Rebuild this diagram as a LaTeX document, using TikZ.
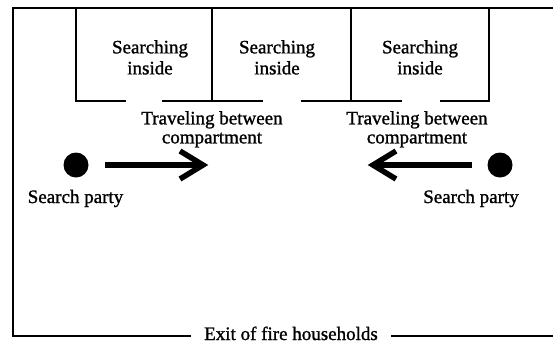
\documentclass[tikz,border=0pt]{standalone}
\usepackage{fontspec}
\setmainfont{Liberation Serif}
\newfontfamily\lblfont{Liberation Serif}[FakeBold=1.2]
\begin{document}
\begin{tikzpicture}[x=1pt,y=-1pt,
  wall/.style={line width=2.8pt,line cap=rect},
  lbl/.style={inner sep=0pt,align=center,font=\lblfont\fontsize{19}{21}\selectfont},
  plainlbl/.style={inner sep=0pt,font=\lblfont\fontsize{19}{21}\selectfont},
  dot/.style={circle,fill=black,inner sep=0pt,minimum size=25pt},
  mvarrow/.style={line width=5.5pt},
  chev/.style={line width=5.5pt,line join=miter}]
\useasboundingbox (0,0) rectangle (553,343);
% outer frame
\coordinate (tl) at (13,8);
\coordinate (tr) at (553,8);
\coordinate (bl) at (13,336);
\coordinate (bg1) at (190,336);
\coordinate (bg2) at (392,336);
\coordinate (br) at (553,336);
\draw[wall] (tr) -- (tl) -- (bl) -- (bg1);
\draw[wall] (bg2) -- (br);
% compartments
\coordinate (w1t) at (76,8);   \coordinate (w1b) at (76,101);
\coordinate (w2t) at (212,8);  \coordinate (w2b) at (212,101);
\coordinate (w3t) at (351,8);  \coordinate (w3b) at (351,101);
\coordinate (w4t) at (489,8);  \coordinate (w4b) at (489,101);
\coordinate (d1a) at (125,101); \coordinate (d1b) at (163,101);
\coordinate (d2a) at (262,101); \coordinate (d2b) at (302,101);
\coordinate (d3a) at (401,101); \coordinate (d3b) at (441,101);
\draw[wall] (w1t) -- (w1b) -- (d1a);
\draw[wall] (d1b) -- (d2a);
\draw[wall] (w2t) -- (w2b);
\draw[wall] (d2b) -- (d3a);
\draw[wall] (w3t) -- (w3b);
\draw[wall] (d3b) -- (w4b) -- (w4t);
% labels
\node[lbl,anchor=north] (s1) at (150,40) {Searching\\inside};
\node[lbl,anchor=north] (s2) at (277,40) {Searching\\inside};
\node[lbl,anchor=north] (s3) at (420,40) {Searching\\inside};
\node[lbl,anchor=north,font=\lblfont\fontsize{19}{19}\selectfont] (t1) at (212,111) {Traveling between\\compartment};
\node[lbl,anchor=north,font=\lblfont\fontsize{19}{19}\selectfont] (t2) at (417,111) {Traveling between\\compartment};
% search parties
\node[dot] (p1) at (76,165) {};
\node[dot] (p2) at (500,165) {};
\node[plainlbl,anchor=base] (sp1) at (75.5,203) {Search party};
\node[plainlbl,anchor=base] (sp2) at (471,203) {Search party};
% arrows
\coordinate (a1s) at (105,165); \coordinate (a1e) at (203,165);
\coordinate (a2s) at (472,165); \coordinate (a2e) at (373,165);
\draw[mvarrow] (a1s) -- (a1e);
\draw[chev] ([shift={(-23,-14)}]a1e) -- (a1e) -- ([shift={(-23,14)}]a1e);
\draw[mvarrow] (a2s) -- (a2e);
\draw[chev] ([shift={(23,-14)}]a2e) -- (a2e) -- ([shift={(23,14)}]a2e);
% exit
\node[plainlbl,anchor=base] (ex) at (291,340) {Exit of fire households};
\end{tikzpicture}
\end{document}
